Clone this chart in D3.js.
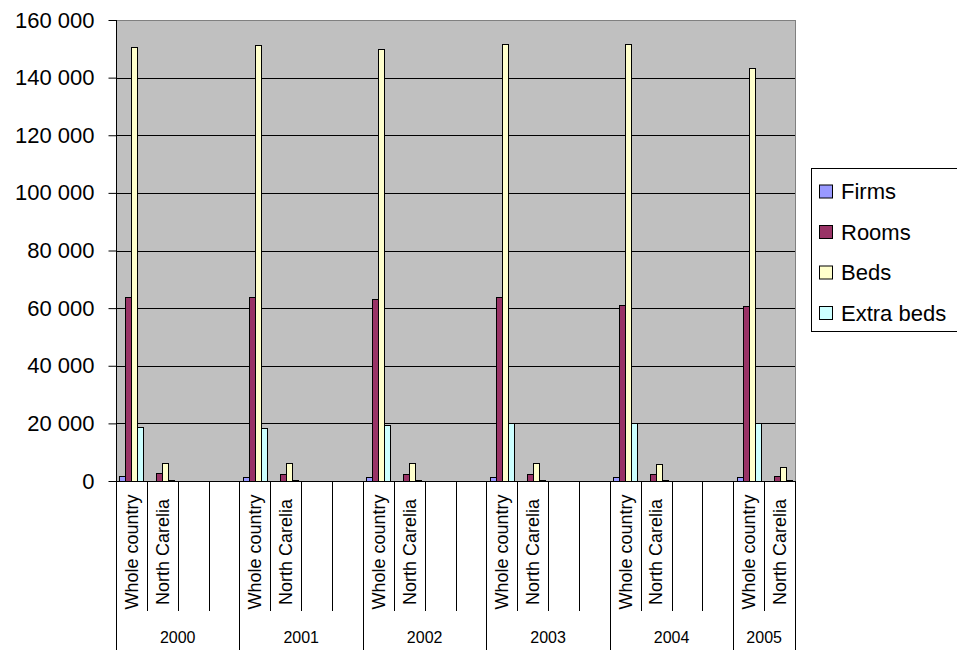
<!DOCTYPE html>
<html>
<head>
<meta charset="utf-8">
<script src="https://cdn.jsdelivr.net/npm/d3@7"></script>
<style>
  html, body { margin: 0; padding: 0; background: #fff; }
  svg { display: block; font-family: "Liberation Sans", Arial, sans-serif; }
</style>
</head>
<body>
<svg id="chart" width="957" height="650"></svg>
<script>
// Accommodation capacity: whole country vs North Carelia, 2000–2005
const years = ["2000", "2001", "2002", "2003", "2004", "2005"];
const regions = ["Whole country", "North Carelia"];
const series = ["Firms", "Rooms", "Beds", "Extra beds"];
const colors = ["#9999FF", "#993366", "#FFFFCC", "#CCFFFF"];
const yTicks = [0, 20000, 40000, 60000, 80000, 100000, 120000, 140000, 160000];

// Values per year, one array per series
const wholeFirms     = [1600, 1550, 1450, 1400, 1350, 1300];
const wholeRooms     = [63800, 63700, 63200, 63800, 61000, 60800];
const wholeBeds      = [150800, 151300, 150000, 151800, 151800, 143200];
const wholeExtraBeds = [18600, 18500, 19300, 20000, 20300, 20100];

const ncFirms        = [120, 120, 120, 110, 110, 110];
const ncRooms        = [2700, 2600, 2600, 2600, 2300, 1900];
const ncBeds         = [6200, 6200, 6200, 6200, 5900, 4900];
const ncExtraBeds    = [400, 400, 400, 400, 400, 400];

// Each year has four category slots (two regions + two empty ones), except the last year
const slotsPerYear = years.map((y, i) => i === years.length - 1 ? 2 : 4);

const cats = [];
years.forEach((y, i) => {
  for (let s = 0; s < slotsPerYear[i]; s++) {
    cats.push({ key: y + "|" + s, year: y, yi: i, slot: s, region: regions[s] || null });
  }
});

const valuesFor = (region, yi) => region === "Whole country"
  ? [wholeFirms[yi], wholeRooms[yi], wholeBeds[yi], wholeExtraBeds[yi]]
  : [ncFirms[yi], ncRooms[yi], ncBeds[yi], ncExtraBeds[yi]];

const svg = d3.select("#chart");
const plot = { left: 116, right: 795, top: 20, bottom: 481 };

const x = d3.scaleBand().domain(cats.map(c => c.key)).range([plot.left, plot.right]).padding(0);
const xs = d3.scaleBand().domain(series).range([0, x.bandwidth()]).paddingInner(0).paddingOuter(0.56);
const y = d3.scaleLinear().domain([0, 160000]).range([plot.bottom, plot.top]);

// Plot background
svg.append("rect")
  .attr("x", plot.left).attr("y", plot.top)
  .attr("width", plot.right - plot.left).attr("height", plot.bottom - plot.top)
  .attr("fill", "#C0C0C0").attr("stroke", "#808080").attr("stroke-width", 1)
  .attr("shape-rendering", "crispEdges");

// Horizontal gridlines
svg.append("g").selectAll("line")
  .data(yTicks.filter(t => t > 0 && t < 160000))
  .join("line")
  .attr("x1", plot.left).attr("x2", plot.right)
  .attr("y1", d => Math.round(y(d)) + 0.5).attr("y2", d => Math.round(y(d)) + 0.5)
  .attr("stroke", "#000").attr("stroke-width", 1);

// Bars
const barRows = [];
cats.filter(c => c.region).forEach(c => {
  const vals = valuesFor(c.region, c.yi);
  series.forEach((s, si) => barRows.push({ cat: c.key, s, si, v: vals[si] }));
});

svg.append("g").selectAll("rect")
  .data(barRows)
  .join("rect")
  .attr("x", d => Math.round(x(d.cat) + xs(d.s)) + 0.5)
  .attr("y", d => Math.round(y(d.v)) + 0.5)
  .attr("width", Math.round(xs.bandwidth()))
  .attr("height", d => Math.max(0, Math.round(y(0)) - Math.round(y(d.v))))
  .attr("fill", d => colors[d.si])
  .attr("stroke", "#000").attr("stroke-width", 1);

// Y axis
const fmt = v => d3.format(",")(v).replace(/,/g, " ");
const yAxis = svg.append("g")
  .attr("transform", `translate(${plot.left + 0.5},0)`)
  .call(d3.axisLeft(y).tickValues(yTicks).tickFormat(fmt).tickSize(8).tickPadding(14));
yAxis.select(".domain").attr("stroke", "#000").attr("d", `M0,${plot.top}V${plot.bottom}`);
yAxis.selectAll(".tick line").attr("stroke", "#000");
yAxis.selectAll(".tick text")
  .attr("fill", "#000").attr("font-size", 22).attr("font-family", "Liberation Sans, Arial, sans-serif");

// X axis line
svg.append("line")
  .attr("x1", plot.left).attr("x2", plot.right + 1)
  .attr("y1", plot.bottom + 0.5).attr("y2", plot.bottom + 0.5)
  .attr("stroke", "#000");

// Category dividers: short ones between slots, long ones between years
const xg = svg.append("g");
const boundaries = [];
cats.forEach((c, i) => {
  boundaries.push({ pos: x(c.key), major: c.slot === 0 });
});
boundaries.push({ pos: plot.right, major: true });
xg.selectAll("line")
  .data(boundaries)
  .join("line")
  .attr("x1", d => Math.round(d.pos) + 0.5).attr("x2", d => Math.round(d.pos) + 0.5)
  .attr("y1", plot.bottom).attr("y2", d => d.major ? 650 : 611)
  .attr("stroke", "#000");

// Rotated region labels
xg.selectAll("text.region")
  .data(cats.filter(c => c.region))
  .join("text")
  .attr("class", "region")
  .attr("transform", d => `translate(${x(d.key) + x.bandwidth() / 2},552) rotate(-90)`)
  .attr("dy", "0.35em")
  .attr("text-anchor", "middle")
  .attr("font-size", 18)
  .text(d => d.region);

// Year labels
xg.selectAll("text.year")
  .data(years)
  .join("text")
  .attr("class", "year")
  .attr("x", (d, i) => {
    const yc = cats.filter(c => c.yi === i);
    const a = x(yc[0].key), b = x(yc[yc.length - 1].key) + x.bandwidth();
    return (a + b) / 2;
  })
  .attr("y", 637)
  .attr("dy", "0.35em")
  .attr("text-anchor", "middle")
  .attr("font-size", 16)
  .text(d => d);

// Legend
const lg = svg.append("g");
lg.append("rect")
  .attr("x", 811.5).attr("y", 168.5).attr("width", 150).attr("height", 163)
  .attr("fill", "#fff").attr("stroke", "#000");
const items = lg.selectAll("g.item")
  .data(series)
  .join("g")
  .attr("class", "item")
  .attr("transform", (d, i) => `translate(0,${191.5 + i * 40.5})`);
items.append("rect")
  .attr("x", 819.5).attr("y", -6.5).attr("width", 13).attr("height", 13)
  .attr("fill", (d, i) => colors[i]).attr("stroke", "#000");
items.append("text")
  .attr("x", 841).attr("dy", "0.35em")
  .attr("font-size", 22)
  .text(d => d);
</script>
</body>
</html>
